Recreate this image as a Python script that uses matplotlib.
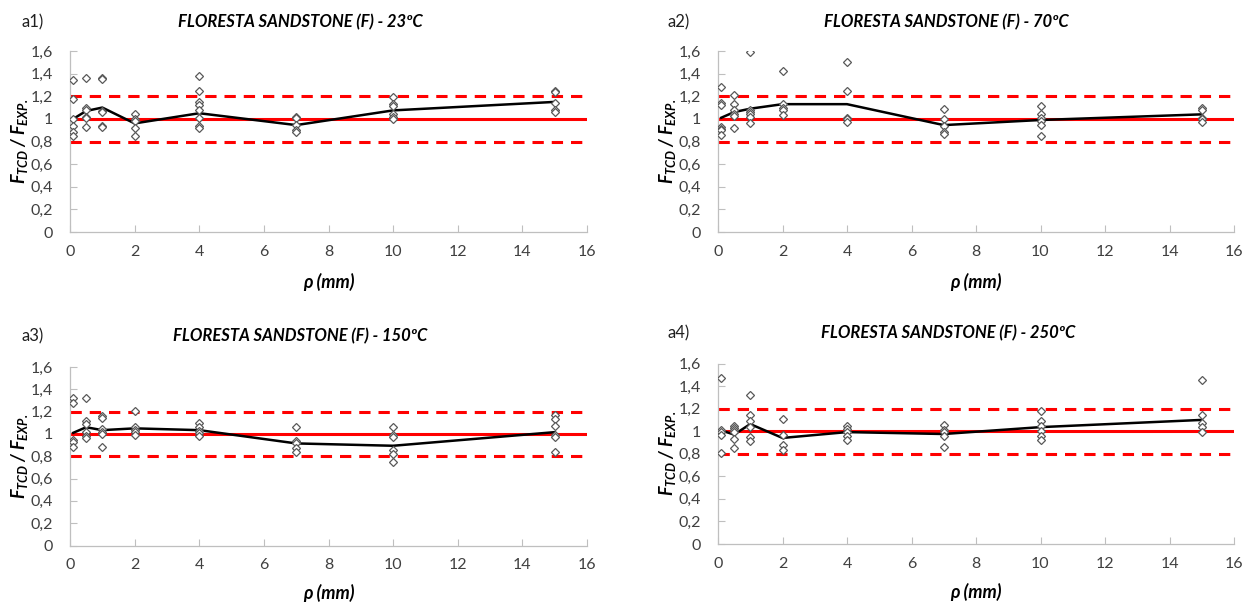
import matplotlib
matplotlib.use("Agg")
import matplotlib.pyplot as plt
from matplotlib.ticker import MultipleLocator, FuncFormatter

# notch radius (mm) tested in every panel
rho = [0.1, 0.5, 1, 2, 4, 7, 10, 15]

# F_TCD / F_EXP. ratios, one list per rho value
a1_points = [
    [1.34, 1.18, 1.00, 0.94, 0.88, 0.85],
    [1.36, 1.10, 1.08, 1.02, 1.01, 0.93],
    [1.36, 1.35, 1.07, 1.06, 0.94, 0.93],
    [1.045, 1.00, 0.98, 0.92, 0.85],
    [1.38, 1.25, 1.15, 1.12, 1.08, 1.01, 0.94, 0.92],
    [1.02, 1.01, 0.95, 0.90, 0.885],
    [1.19, 1.13, 1.11, 1.045, 1.02, 0.995],
    [1.25, 1.24, 1.14, 1.075, 1.065],
]
a1_line = [1.00, 1.07, 1.10, 0.96, 1.05, 0.945, 1.075, 1.15]

a2_points = [
    [1.28, 1.14, 1.12, 0.93, 0.91, 0.90, 0.86],
    [1.21, 1.13, 1.075, 1.04, 1.025, 0.915],
    [1.59, 1.08, 1.06, 1.04, 1.02, 0.965],
    [1.42, 1.13, 1.10, 1.08, 1.035],
    [1.50, 1.245, 1.01, 0.995, 0.975],
    [1.09, 0.995, 0.935, 0.88, 0.87],
    [1.115, 1.04, 1.01, 0.98, 0.95, 0.845],
    [1.10, 1.075, 1.01, 0.995, 0.97],
]
a2_line = [1.01, 1.06, 1.09, 1.13, 1.13, 0.945, 0.99, 1.04]

a3_points = [
    [1.325, 1.275, 0.95, 0.925, 0.88],
    [1.325, 1.117, 1.09, 1.016, 0.98, 0.962],
    [1.16, 1.147, 1.04, 1.02, 1.00, 0.885],
    [1.204, 1.064, 1.034, 1.02, 0.986],
    [1.094, 1.058, 1.028, 1.004, 0.983],
    [1.058, 0.933, 0.915, 0.87, 0.84],
    [1.058, 0.99, 0.974, 0.855, 0.82, 0.75],
    [1.174, 1.138, 1.07, 0.992, 0.974, 0.834],
]
a3_line = [1.01, 1.06, 1.034, 1.05, 1.034, 0.915, 0.894, 1.016]

a4_points = [
    [1.468, 1.007, 0.99, 0.97, 0.807],
    [1.048, 1.028, 1.007, 0.99, 0.93, 0.85],
    [1.32, 1.145, 1.086, 1.033, 0.945, 0.916],
    [1.11, 0.969, 0.878, 0.834],
    [1.05, 1.019, 0.99, 0.954, 0.925],
    [1.057, 1.007, 0.99, 0.96, 0.857],
    [1.18, 1.092, 1.042, 0.998, 0.954, 0.925],
    [1.453, 1.142, 1.072, 1.033, 0.992],
]
a4_line = [1.007, 0.97, 1.063, 0.94, 0.992, 0.975, 1.036, 1.10]

panel_tags = ["a1)", "a2)", "a3)", "a4)"]
temperatures = ["23ºC", "70ºC", "150ºC", "250ºC"]
ratio_ok = 1.0
ratio_band = [0.8, 1.2]

plt.rcParams["font.family"] = ["Lato", "DejaVu Sans"]
plt.rcParams["mathtext.fontset"] = "custom"
plt.rcParams["mathtext.it"] = "Lato:italic:bold"
plt.rcParams["mathtext.rm"] = "Lato:italic:bold"
plt.rcParams["mathtext.bf"] = "Lato:bold"

W, H = 1250, 602
fig = plt.figure(figsize=(W / 100, H / 100), dpi=100)

# axes boxes in pixels: left, top (y=1.6), right (x=16), bottom (y=0)
boxes = [
    (70, 51, 587, 232),
    (718, 51, 1234, 232),
    (70, 367, 587, 545.5),
    (718, 363.5, 1234, 544),
]
# label positions in pixels: tag x, title centre x, title y, ylabel x, xlabel y
text_pos = [
    (22, 300, 22, 20, 282),
    (667, 946, 22, 667, 282),
    (22, 300, 336, 20, 593),
    (667, 948, 333, 667, 592),
]

panels = [
    (a1_points, a1_line),
    (a2_points, a2_line),
    (a3_points, a3_line),
    (a4_points, a4_line),
]

grey = "#bfbfbf"
comma = FuncFormatter(lambda v, p: f"{v:g}".replace(".", ","))

for i, (points, line) in enumerate(panels):
    l, t, r, b = boxes[i]
    ax = fig.add_axes([l / W, 1 - b / H, (r - l) / W, (b - t) / H])

    ax.axhline(ratio_ok, color="#ff0000", lw=2.2, zorder=2)
    for lim in ratio_band:
        ax.axhline(lim, color="#ff0000", lw=2.2, dashes=(3.7, 2.6), zorder=2)

    xs = [x for x, grp in zip(rho, points) for _ in grp]
    ys = [y for grp in points for y in grp]
    ax.plot(rho, line, color="black", lw=1.8, zorder=3)
    ax.plot(xs, ys, "D", ms=4.0, mfc="white", mec="#595959", mew=0.9,
            linestyle="none", zorder=4)

    ax.set_xlim(0, 16)
    ax.set_ylim(0, 1.6)
    ax.xaxis.set_major_locator(MultipleLocator(2))
    ax.yaxis.set_major_locator(MultipleLocator(0.2))
    ax.yaxis.set_major_formatter(comma)

    for side in ["top", "right"]:
        ax.spines[side].set_visible(False)
    for side in ["left", "bottom"]:
        ax.spines[side].set_color(grey)
        ax.spines[side].set_linewidth(0.9)
    ax.tick_params(axis="both", direction="in", length=5, color=grey,
                   labelsize=11.5, labelcolor="#404040")
    ax.tick_params(axis="x", pad=9)
    ax.tick_params(axis="y", pad=12)

    tx, cx, ty, yx, xy = text_pos[i]
    fig.text(tx / W, 1 - ty / H, panel_tags[i], fontsize=12,
             ha="left", va="center", color="#202020")
    fig.text(cx / W, 1 - ty / H, f"FLORESTA SANDSTONE (F) - {temperatures[i]}",
             fontsize=12, fontweight="bold", style="italic",
             ha="center", va="center")
    fig.text((l + r) / 2 / W, 1 - xy / H, "ρ (mm)", fontsize=13,
             fontweight="bold", style="italic", ha="center", va="center")
    fig.text(yx / W, 1 - (t + b) / 2 / H, r"$F_{TCD}$ / $F_{EXP.}$",
             fontsize=13, fontweight="bold", style="italic", rotation=90,
             ha="center", va="center")

fig.savefig("out.png", dpi=100)
